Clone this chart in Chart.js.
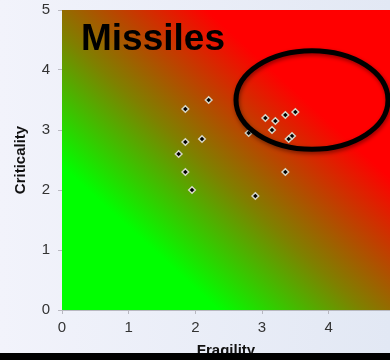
<!DOCTYPE html>
<html>
<head>
<meta charset="utf-8">
<script src="https://cdn.jsdelivr.net/npm/chart.js@4.4.0/dist/chart.umd.min.js"></script>
<style>
  html, body { margin: 0; padding: 0; overflow: hidden; }
  body { width: 390px; height: 360px; position: relative;
         background: linear-gradient(to right, #f2f3fb, #e2e8f4); }
  #wrap { position: absolute; left: 0; top: 0; width: 390px; height: 360px; }
  #bar { position: absolute; left: 0; top: 353px; width: 390px; height: 7px; background: #000; }
</style>
</head>
<body>
<div id="wrap"><canvas id="chart-missiles" width="390" height="360"></canvas></div>
<div id="bar"></div>
<script>
// data
const fragility   = [2.2, 1.85, 3.05, 3.35, 3.5, 3.2, 3.15, 2.8, 3.45, 3.4, 2.1, 1.85, 1.75, 1.85, 3.35, 1.95, 2.9];
const criticality = [3.5, 3.35, 3.2, 3.25, 3.3, 3.15, 3.0, 2.95, 2.9, 2.85, 2.85, 2.8, 2.6, 2.3, 2.3, 2.0, 1.9];
const xTicks = [0, 1, 2, 3, 4];
const yTicks = [0, 1, 2, 3, 4, 5];
const chartTitle = 'Missiles';
const xTitle = 'Fragility';
const yTitle = 'Criticality';
// highlight ellipse (data units)
const ellipseCenter = [3.75, 3.5];
const ellipseRadius = [1.14, 0.82];

const points = fragility.map((f, i) => ({ x: f, y: criticality[i] }));

// green -> red background, iso-lines along the top-left / bottom-right diagonal
const gradientBg = {
    id: 'gradientBg',
    beforeDatasetsDraw(chart) {
        const { ctx, chartArea: a } = chart;
        const w = a.right - a.left, h = a.bottom - a.top;
        const cx = a.left + w / 2, cy = a.top + h / 2;
        const g = ctx.createLinearGradient(cx - h / 2, cy + w / 2, cx + h / 2, cy - w / 2);
        g.addColorStop(0, '#00ff00');
        g.addColorStop(0.24, '#00ff00');
        g.addColorStop(0.46, '#7f8000');
        g.addColorStop(0.72, '#ff0000');
        g.addColorStop(1, '#ff0000');
        ctx.save();
        ctx.fillStyle = g;
        ctx.fillRect(a.left, a.top, w, h);
        ctx.restore();
    }
};

// title + ellipse drawn on top
const overlay = {
    id: 'overlay',
    afterDatasetsDraw(chart) {
        const { ctx, chartArea: a, scales } = chart;
        ctx.save();
        ctx.fillStyle = '#000';
        ctx.font = 'bold 37px "Liberation Sans", Arial, sans-serif';
        ctx.textBaseline = 'alphabetic';
        ctx.fillText(chartTitle, a.left + 19, a.top + 40);

        const cx = scales.x.getPixelForValue(ellipseCenter[0]);
        const cy = scales.y.getPixelForValue(ellipseCenter[1]);
        const rx = Math.abs(scales.x.getPixelForValue(ellipseCenter[0] + ellipseRadius[0]) - cx);
        const ry = Math.abs(scales.y.getPixelForValue(ellipseCenter[1] + ellipseRadius[1]) - cy);
        ctx.shadowColor = 'rgba(0,0,0,0.45)';
        ctx.shadowBlur = 4;
        ctx.shadowOffsetX = 1;
        ctx.shadowOffsetY = 2;
        ctx.strokeStyle = '#000';
        ctx.lineWidth = 5;
        ctx.beginPath();
        ctx.ellipse(cx, cy, rx, ry, 0, 0, Math.PI * 2);
        ctx.stroke();
        ctx.restore();
    }
};

const tickFont = { family: '"Liberation Sans", Arial, sans-serif', size: 15 };
const titleFont = { family: '"Liberation Sans", Arial, sans-serif', size: 15, weight: 'bold' };

new Chart(document.getElementById('chart-missiles').getContext('2d'), {
    type: 'scatter',
    data: {
        datasets: [{
            data: points,
            pointStyle: 'rectRot',
            pointRadius: 3.3,
            pointHoverRadius: 3.3,
            backgroundColor: '#000',
            borderColor: '#d6d6c8',
            borderWidth: 1.5
        }]
    },
    options: {
        responsive: false,
        animation: false,
        events: [],
        layout: { autoPadding: false, padding: { top: 10, left: 0, right: 0, bottom: 0 } },
        plugins: { legend: { display: false }, tooltip: { enabled: false } },
        scales: {
            x: {
                type: 'linear',
                min: 0, max: 4.92,
                afterFit: s => { s.height = 50; s.paddingLeft = 0; s.paddingRight = 0; },
                afterBuildTicks: s => { s.ticks = xTicks.map(v => ({ value: v })); },
                ticks: { font: tickFont, color: '#333', padding: 5, maxRotation: 0 },
                grid: { drawOnChartArea: false, drawTicks: true, tickLength: 4, color: '#b8b8c0' },
                border: { color: '#b8b8c0' },
                title: { display: true, text: xTitle, font: titleFont, color: '#111', padding: 0 }
            },
            y: {
                type: 'linear',
                min: 0, max: 5,
                afterFit: s => { s.width = 62; s.paddingTop = 0; s.paddingBottom = 0; },
                afterBuildTicks: s => { s.ticks = yTicks.map(v => ({ value: v })); },
                ticks: { font: tickFont, color: '#333', padding: 8 },
                grid: { drawOnChartArea: false, drawTicks: true, tickLength: 4, color: '#b8b8c0' },
                border: { color: '#b8b8c0' },
                title: { display: true, text: yTitle, font: titleFont, color: '#111', padding: { top: 12, bottom: 0 } }
            }
        }
    },
    plugins: [gradientBg, overlay]
});
</script>
</body>
</html>
